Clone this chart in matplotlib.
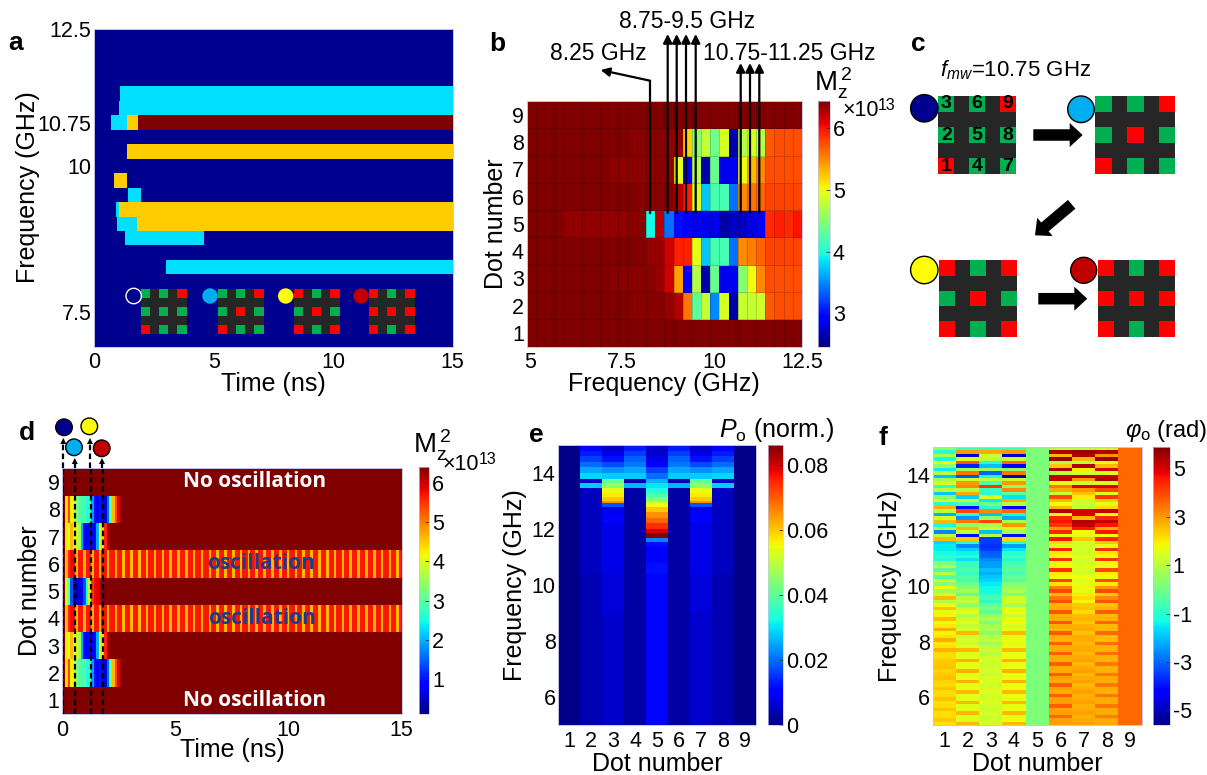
import numpy as np
import matplotlib
matplotlib.use('Agg')
import matplotlib.pyplot as plt
from matplotlib.patches import Rectangle, Circle, FancyArrow, Polygon

plt.rcParams['font.family'] = ['Liberation Sans', 'DejaVu Sans']
plt.rcParams['mathtext.fontset'] = 'custom'
plt.rcParams['mathtext.rm'] = 'Liberation Sans'
plt.rcParams['mathtext.it'] = 'Liberation Sans:italic'
plt.rcParams['mathtext.bf'] = 'Liberation Sans:bold'
plt.rcParams['axes.unicode_minus'] = False

W, H = 1207, 775
TICK = 15.5
LABEL = 18

NAVY = '#00008f'
CYAN = '#00dfff'
ORANGE = '#ffcc00'
DARK = '#7f0000'
C_BLUE = '#00aeef'
C_YEL = '#ffff00'
C_RED = '#c00000'
GREEN = '#00b050'
RED = '#ff0000'
GRID_BG = '#262626'

# panel a: bands as frequency (lower edge), start, end, colour
a_freq = [11.25, 11.0, 10.75, 10.75, 10.75, 10.25, 9.75, 9.5, 9.25, 9.25, 9.0, 9.0, 8.75, 8.25]
a_start = [1.07, 1.02, 0.70, 1.38, 1.83, 1.35, 0.81, 1.41, 0.91, 1.03, 0.96, 1.79, 1.28, 3.01]
a_end = [15, 15, 1.38, 1.83, 15, 15, 1.38, 1.94, 1.03, 15, 1.79, 15, 4.58, 15]
a_color = [CYAN, CYAN, CYAN, ORANGE, DARK, ORANGE, ORANGE, CYAN, CYAN, ORANGE, CYAN, ORANGE, CYAN, CYAN]
a_yticks = [7.6, 10.125, 10.875, 12.5]
a_ylabels = ['7.5', '10', '10.75', '12.5']

# panel b: Mz^2 (x1e13), dot 9 first, 30 frequency bins 5 - 12.5 GHz
b_freq = np.arange(5, 12.51, 0.25)
b_dot9 = [6.44] * 30
b_dot8 = [6.44, 6.44, 6.44, 6.44, 6.44, 6.44, 6.44, 6.44, 6.44, 6.44, 6.44, 6.4, 6.4, 6.4, 6.4, 6.36, 6.36, 5.2, 4.5, 4.8, 4.4, 4.9, 2.6, 4.7, 4.9, 4.7, 5.7, 5.75, 5.75, 5.75]
b_dot7 = [6.44, 6.44, 6.44, 6.44, 6.44, 6.44, 6.44, 6.44, 6.44, 6.39, 6.39, 6.39, 6.39, 6.39, 6.39, 6.35, 4.95, 2.9, 4.7, 2.6, 4.35, 2.85, 2.85, 5.0, 5.3, 5.5, 5.75, 5.75, 5.75, 5.75]
b_dot6 = [6.44, 6.44, 6.44, 6.44, 6.44, 6.44, 6.44, 6.44, 6.44, 6.44, 6.44, 6.44, 6.4, 6.4, 6.4, 6.4, 6.25, 5.95, 4.9, 3.75, 4.2, 4.2, 3.4, 5.5, 5.6, 5.65, 5.8, 5.8, 5.8, 5.8]
b_dot5 = [6.44, 6.44, 6.44, 6.44, 6.37, 6.37, 6.37, 6.37, 6.37, 6.37, 6.37, 6.4, 6.4, 3.95, 6.25, 3.4, 3.0, 2.9, 2.85, 2.85, 2.85, 2.6, 2.7, 2.7, 2.8, 2.95, 5.9, 5.95, 5.9, 6.0]
b_dot4 = [6.44, 6.44, 6.44, 6.44, 6.44, 6.44, 6.44, 6.44, 6.44, 6.44, 6.44, 6.44, 6.42, 6.36, 6.36, 6.15, 5.95, 5.95, 4.95, 3.75, 4.2, 4.2, 3.4, 5.5, 5.55, 5.65, 5.8, 5.8, 5.8, 5.8]
b_dot3 = [6.44, 6.44, 6.44, 6.44, 6.44, 6.44, 6.44, 6.44, 6.44, 6.4, 6.4, 6.4, 6.4, 6.4, 6.36, 6.15, 5.4, 2.9, 4.7, 2.6, 4.35, 2.85, 2.85, 4.5, 5.0, 5.5, 5.75, 5.75, 5.75, 5.75]
b_dot2 = [6.44, 6.44, 6.44, 6.44, 6.44, 6.44, 6.44, 6.44, 6.44, 6.44, 6.44, 6.4, 6.4, 6.4, 6.4, 6.36, 6.25, 5.6, 4.3, 4.8, 3.5, 4.9, 2.6, 4.8, 4.8, 4.85, 5.7, 5.75, 5.75, 5.75]
b_dot1 = [6.44] * 30

# panel d: Mz^2 (x1e13), early transient of each dot, bins of 15/130 ns
d_dot8 = [6.42, 4.4, 5.4, 4.2, 3.8, 3.4, 3.0, 2.7, 3.0, 2.5, 2.6, 1.9, 1.0, 0.9, 1.0, 0.8, 0.6, 1.6, 3.0, 4.6, 5.4, 5.9, 6.2]
d_dot7 = [6.42, 4.3, 4.0, 4.6, 4.2, 4.0, 3.6, 2.0, 0.9, 0.9, 0.9, 0.9, 0.9, 2.0, 4.0, 4.4, 5.6, 6.1]
d_dot5 = [6.42, 3.8, 3.2, 1.4, 0.5, 0.4, 0.6, 0.8, 1.4, 2.6, 4.0, 5.5, 5.8, 5.9, 6.1]
d_osc = [
    6.42, 4.6, 5.6, 5.8, 5.8, 4.6, 5.7, 5.7, 4.6, 5.7, 5.7, 4.6, 5.7, 5.7, 4.6, 5.7, 5.7, 4.6, 5.7, 5.7,
    4.6, 5.7, 5.7, 4.6, 5.7, 5.7, 4.6, 5.7, 5.7, 4.6, 5.7, 5.7, 4.6, 5.7, 5.7, 4.6, 5.7, 5.7, 4.6, 5.7,
    5.7, 4.6, 5.7, 5.7, 4.6, 5.7, 5.7, 4.6, 5.7, 5.7, 4.6, 5.7, 5.7, 4.6, 5.7, 5.7, 4.6, 5.7, 5.7, 4.6,
    5.7, 5.7, 4.6, 5.7, 5.7, 4.6, 5.7, 5.7, 4.6, 5.7, 5.7, 4.6, 5.7, 5.7, 4.6, 5.7, 5.7, 4.6, 5.7, 5.7,
    4.6, 5.7, 5.7, 4.6, 5.7, 5.7, 4.6, 5.7, 5.7, 4.6, 5.7, 5.7, 4.6, 5.7, 5.7, 4.6, 5.7, 5.7, 4.6, 5.7,
    5.7, 4.6, 5.7, 5.7, 4.6, 5.7, 5.7, 4.6, 5.7, 5.7, 4.6, 5.7, 5.7, 4.6, 5.7, 5.7, 4.6, 5.7, 5.7, 4.6,
    5.7, 5.7, 4.6, 5.7, 5.7, 4.6, 5.7, 5.7, 4.6, 5.7,
]
d_probe_t = [0.05, 0.55, 1.28, 1.8]

# panel e: output power, frequency row edges from 15 GHz down
e_edges = [15, 14.8, 14.6, 14.4, 14.2, 14.0, 13.8, 13.63, 13.45, 13.3, 13.15, 13.0, 12.92, 12.8, 12.6, 12.4, 12.2, 12.0, 11.85, 11.67, 11.55, 11.4, 10.8, 10.4, 9, 5]
e_dot1 = [0.001] * 25
e_dot2 = [.011, .013, .016, .020, .025, .029, .006, .028, .005, .005, .005, .005, .005, .005, .005, .005, .005, .005, .005, .005, .005, .005, .005, .004, .004]
e_dot3 = [.006, .008, .012, .017, .023, .028, .040, .045, .054, .057, .060, .065, .018, .008, .009, .011, .008, .008, .008, .008, .008, .008, .008, .007, .006]
e_dot4 = [.013, .016, .019, .021, .025, .028, .004, .026, .003, .003, .003, .003, .003, .003, .003, .003, .003, .003, .003, .003, .003, .003, .003, .003, .003]
e_dot5 = [.006, .006, .008, .011, .016, .020, .026, .030, .033, .038, .044, .050, .055, .060, .065, .069, .074, .079, .085, .022, .012, .010, .012, .011, .011]

# panel f: output phase, 80 rows of 0.125 GHz from 15 GHz down
f_dot1 = [0.5, -1.0, 0.8, -1.3, 1.7, 0.4, -1.5, 1.0, -2.0, 0.6, 1.4, -0.8, 1.0, -1.9, 0.3, 1.4, -1.0, 2.8, 1.0, -2.2, 1.4, 2.6, -1.2, 0.8, -2.6, 1.0, 2.6, -1.7, -1.5, -1.5, -1.3, -0.8, -1.2, 0.2, 1.0, -0.5, 1.0, -0.4, 1.2, 0.4,
          1.7, 0.6, 1.4, 2.6, 0.9, 1.7, 2.5, 1.6, 1.9, 2.6, 1.8, 2.0, 2.8, 1.9, 2.1, 2.8, 2.0, 2.1, 2.7, 2.2, 2.2, 2.4, 2.4, 2.5, 2.3, 2.4, 2.5, 2.3, 2.2, 2.5, 2.2, 2.2, 2.5, 2.1, 2.2, 2.5, 2.1, 2.2, 2.4, 2.1]
f_dot2 = [-0.8, 3.0, -4.8, 1.4, 3.8, -3.8, 0.6, 3.4, -3.2, 1.2, 3.0, 3.2, 1.0, 2.8, -1.8, 1.2, -0.6, -4.0, 4.0, -1.0, -2.5, 3.4, 0.5, 2.6, 1.2, -4.0, 2.4, -1.0, -2.6, -1.8, -1.4, -0.9, -1.6, -0.8, -0.8, -0.5, -0.9, -0.4, -0.8, 0.0,
          0.3, 0.6, -0.1, 0.9, 1.1, 0.5, 1.2, 1.5, 0.9, 1.3, 1.5, 1.1, 1.4, 2.6, 1.2, 1.4, 1.2, 1.6, 2.6, 1.5, 1.5, 2.7, 1.6, 1.6, 2.7, 1.6, 1.6, 2.7, 1.6, 1.6, 2.6, 1.6, 1.5, 2.6, 1.5, 1.6, 2.6, 1.5, 1.5, 2.6]
f_dot3 = [-0.8, 2.8, 1.2, 1.0, -1.0, -2.0, 0.5, -3.0, -1.2, 1.0, -0.5, 4.2, -0.8, -1.0, 1.5, -1.5, 0.0, -1.0, 3.2, -2.0, 0.4, 4.0, 0.8, 1.2, -2.0, 0.9, -3.5, -3.5, -3.6, -3.5, -3.1, -3.0, -2.6, -2.4, -2.4, -2.0, -2.2, -1.9, -1.7, -1.5,
          -1.3, -1.3, -0.9, -0.6, -1.0, -0.2, 0.2, -0.3, 0.4, 0.8, 0.2, 0.7, 0.9, 0.4, 0.9, 1.1, 0.6, 1.1, 1.2, 1.0, 1.3, 1.4, 1.2, 1.3, 1.4, 1.2, 1.4, 1.5, 1.3, 1.4, 1.5, 1.3, 1.4, 1.5, 1.3, 1.3, 1.4, 1.2, 1.3, 1.4]
f_dot4 = [-0.8, 3.0, -4.8, 1.2, 3.6, -4.4, 0.4, 3.4, -5.0, 1.2, 3.0, 0.4, 3.2, -0.3, -1.6, 2.8, 1.0, -4.2, 3.6, -1.2, -2.2, 0.8, 3.0, 1.4, 0.8, -4.0, 2.2, -0.8, -2.4, -1.6, -1.0, -0.6, -1.2, -0.6, -0.5, -0.3, -0.7, -0.2, -0.5, 0.3,
          0.5, 0.9, 0.2, 1.2, 1.4, 0.8, 1.5, 1.7, 1.2, 1.6, 1.8, 1.4, 1.6, 2.6, 1.5, 1.7, 1.5, 1.8, 2.6, 1.6, 1.7, 2.7, 1.7, 1.7, 2.7, 1.7, 1.7, 2.7, 1.7, 1.7, 2.6, 1.7, 1.7, 2.6, 1.6, 1.7, 2.6, 1.6, 1.7, 2.6]
f_dot5 = [0.15] * 80
f_dot6 = [1.0, 5.4, 2.6, 5.6, 1.0, 2.4, 5.4, 1.0, 5.2, 5.2, 1.6, 3.4, 2.8, 1.2, 4.0, 2.6, 1.8, 2.6, 5.4, 1.4, 4.4, 4.6, 4.2, 3.0, 4.4, 1.6, 4.6, 2.2, 1.5, 4.4, 2.0, 1.7, 4.3, 1.8, 1.7, 4.2, 2.0, 1.8, 4.1, 2.1,
          3.3, 4.0, 2.6, 3.4, 3.9, 2.7, 2.8, 3.8, 2.7, 2.8, 3.8, 2.8, 2.7, 3.8, 2.8, 2.7, 3.7, 2.8, 2.8, 3.7, 2.8, 2.8, 3.7, 2.8, 2.8, 3.7, 2.9, 2.8, 3.7, 2.9, 2.8, 3.7, 2.9, 2.9, 3.7, 2.9, 2.9, 3.6, 2.9, 2.9]
f_dot7 = [1.0, 5.6, 5.4, 2.6, 1.0, 5.4, 2.0, 1.4, 5.4, 3.0, 1.2, 5.0, 3.0, 2.5, 2.0, 1.2, 1.2, 1.2, 5.0, 5.0, 2.6, 5.4, 5.2, 4.6, 1.8, 1.6, 2.4, 1.4, 1.4, 1.4, 1.3, 1.6, 1.3, 1.3, 1.6, 1.4, 1.4, 1.7, 1.5, 1.6,
          1.9, 1.6, 2.0, 2.2, 1.9, 2.4, 2.5, 2.2, 2.6, 2.7, 2.4, 2.7, 2.8, 2.5, 2.8, 2.8, 2.6, 2.8, 2.8, 2.6, 2.8, 2.9, 2.6, 2.8, 2.9, 2.6, 2.8, 2.9, 2.6, 2.8, 2.9, 2.7, 2.8, 2.9, 2.7, 2.8, 2.9, 2.7, 2.8, 2.9]
f_dot8 = [1.2, 5.4, 3.0, 5.6, 1.6, 2.6, 5.0, 1.4, 5.2, 5.4, 1.4, 5.0, 4.0, 1.5, 4.2, 2.4, 1.6, 2.2, 5.2, 1.6, 4.4, 5.2, 4.6, 2.8, 4.6, 1.8, 4.4, 2.4, 1.6, 4.3, 2.0, 1.6, 4.2, 1.8, 1.6, 4.0, 2.0, 1.7, 4.0, 2.0,
          3.0, 4.0, 2.4, 3.2, 3.8, 2.5, 2.7, 3.7, 2.6, 2.7, 3.6, 2.6, 2.6, 3.6, 2.6, 2.6, 3.5, 2.7, 2.7, 3.5, 2.7, 2.7, 3.4, 2.7, 2.7, 3.4, 2.8, 2.7, 3.4, 2.8, 2.7, 3.4, 2.8, 2.8, 3.4, 2.8, 2.8, 3.3, 2.8, 2.8]
f_dot9 = [3.6] * 80

# switching states of the 3x3 dots, top row first
state_a = ['ggr', 'ggg', 'rgg']
state_b = ['ggr', 'grg', 'rgg']
state_c = ['rgr', 'grg', 'rgr']
state_d = ['rgr', 'rrr', 'rgr']
c_numbers = ['369', '258', '147']
dot_ticks = [1, 2, 3, 4, 5, 6, 7, 8, 9]


def px_axes(x0, y0, x1, y1):
    return fig.add_axes([x0 / W, 1 - y1 / H, (x1 - x0) / W, (y1 - y0) / H])


def style(ax):
    for s in ax.spines.values():
        s.set_color('#c4c8e8')
        s.set_linewidth(0.7)
    ax.tick_params(length=0, labelsize=TICK, pad=2)
    ax.tick_params(axis='x', pad=4)


def add_cbar(mesh, x0, y0, x1, y1, ticks, labels=None):
    cax = px_axes(x0, y0, x1, y1)
    cb = fig.colorbar(mesh, cax=cax)
    cb.set_ticks(ticks)
    if labels:
        cb.set_ticklabels(labels)
    cb.outline.set_edgecolor('#c4c8e8')
    cb.outline.set_linewidth(0.5)
    cax.tick_params(length=3, direction='in', color='#303030', width=0.6, labelsize=TICK, pad=2)
    return cb


def dot_grid(ov, x0, y0, x1, y1, state, numbers=None):
    ov.add_patch(Rectangle((x0, y0), x1 - x0, y1 - y0, fc=GRID_BG, ec='none'))
    w = (x1 - x0) * 0.205
    h = (y1 - y0) * 0.205
    for r in range(3):
        for c in range(3):
            px = x0 + (x1 - x0 - w) * c / 2
            py = y0 + (y1 - y0 - h) * r / 2
            col = RED if state[r][c] == 'r' else GREEN
            ov.add_patch(Rectangle((px, py), w, h, fc=col, ec='none'))
            if numbers:
                ov.text(px + w / 2, py + h / 2, numbers[r][c], fontsize=14, fontweight='bold',
                        ha='center', va='center', color='black')


def dot_marker(ov, x, y, r, col, ec='black'):
    ov.add_patch(Circle((x, y), r, fc=col, ec=ec, lw=1, zorder=5))


fig = plt.figure(figsize=(W / 100, H / 100), dpi=100, facecolor='white')

# panel a
ax_a = px_axes(94.3, 28.5, 452.7, 346.7)
ax_a.set_facecolor(NAVY)
for f, s, e, c in zip(a_freq, a_start, a_end, a_color):
    ax_a.barh(f, e - s, left=s, height=0.25, align='edge', color=c, lw=0)
ax_a.set_xlim(0, 15)
ax_a.set_ylim(7, 12.5)
ax_a.set_xticks([0, 5, 10, 15])
ax_a.set_yticks(a_yticks)
ax_a.set_yticklabels(a_ylabels)
style(ax_a)
ax_a.set_xlabel('Time (ns)', fontsize=LABEL, labelpad=-1)
ax_a.set_ylabel('Frequency (GHz)', fontsize=LABEL, labelpad=-2)

# panel b
b_rows = [b_dot1, b_dot2, b_dot3, b_dot4, b_dot5, b_dot6, b_dot7, b_dot8, b_dot9]
ax_b = px_axes(526.7, 101, 802, 346.7)
m_b = ax_b.pcolormesh(b_freq, np.arange(0.5, 9.6), np.array(b_rows), cmap='jet', vmin=2.46, vmax=6.44,
                      edgecolors=(0, 0, 0, 0.18), linewidth=0.5)
ax_b.set_xlim(5, 12.5)
ax_b.set_yticks(dot_ticks)
ax_b.set_xticks([5.1, 7.6, 10.1, 12.5])
ax_b.set_xticklabels(['5', '7.5', '10', '12.5'])
style(ax_b)
ax_b.set_xlabel('Frequency (GHz)', fontsize=LABEL, labelpad=-1)
ax_b.set_ylabel('Dot number', fontsize=LABEL, labelpad=3)
add_cbar(m_b, 818, 101, 830, 346.7, [3, 4, 5, 6])

# panel d
d_t = np.linspace(0, 15, 131)
d_rows = [[6.42] * 130 for _ in range(9)]
for row, early in [(1, d_dot8), (7, d_dot8), (2, d_dot7), (6, d_dot7), (4, d_dot5)]:
    d_rows[row][:len(early)] = early
d_rows[3] = d_osc
d_rows[5] = d_osc
ax_d = px_axes(62.3, 468.3, 401.7, 714)
m_d = ax_d.pcolormesh(d_t, np.arange(0.5, 9.6), np.array(d_rows), cmap='jet', vmin=0.1, vmax=6.42)
ax_d.set_xlim(0, 15)
ax_d.set_xticks([0, 5, 10, 15])
ax_d.set_yticks(dot_ticks)
style(ax_d)
ax_d.set_xlabel('Time (ns)', fontsize=LABEL, labelpad=-2)
ax_d.set_ylabel('Dot number', fontsize=LABEL, labelpad=4)
for t in d_probe_t:
    ax_d.axvline(t, color='black', ls='--', lw=1.6, dashes=(2.5, 1.5))
for txt, tx, y, c in [('No oscillation', 8.48, 9, 'white'), ('No oscillation', 8.48, 1, 'white'),
                      ('oscillation', 8.77, 6, '#1f3a8a'), ('oscillation', 8.83, 4, '#1f3a8a')]:
    ax_d.text(tx, y, txt, color=c, fontsize=15, fontweight='bold', family='Open Sans',
              ha='center', va='center')
add_cbar(m_d, 418.7, 466.7, 429.3, 714, [1, 2, 3, 4, 5, 6])

# panel e
e_rows = np.array([e_dot1, e_dot2, e_dot3, e_dot4, e_dot5, e_dot4, e_dot3, e_dot2, e_dot1]).T
ax_e = px_axes(558.3, 445, 756, 725)
m_e = ax_e.pcolormesh(np.arange(0.5, 9.6), e_edges, e_rows, cmap='jet', vmin=0, vmax=0.086)
ax_e.set_ylim(5, 15)
ax_e.set_xticks(dot_ticks)
ax_e.set_yticks([6, 8, 10, 12, 14])
style(ax_e)
ax_e.set_xlabel('Dot number', fontsize=LABEL, labelpad=0)
ax_e.set_ylabel('Frequency (GHz)', fontsize=LABEL, labelpad=3)
add_cbar(m_e, 767.7, 445, 783.3, 725, [0, 0.02, 0.04, 0.06, 0.08], ['0', '0.02', '0.04', '0.06', '0.08'])

# panel f
f_rows = np.array([f_dot1, f_dot2, f_dot3, f_dot4, f_dot5, f_dot6, f_dot7, f_dot8, f_dot9]).T
f_freq = np.linspace(15, 5, 81)
ax_f = px_axes(932.7, 446.7, 1141.7, 725)
m_f = ax_f.pcolormesh(np.arange(0.5, 9.6), f_freq, f_rows, cmap='jet', vmin=-5.6, vmax=5.9)
ax_f.set_ylim(5, 15)
ax_f.set_xticks(dot_ticks)
ax_f.set_yticks([6, 8, 10, 12, 14])
style(ax_f)
ax_f.set_xlabel('Dot number', fontsize=LABEL, labelpad=0)
ax_f.set_ylabel('Frequency (GHz)', fontsize=LABEL, labelpad=3)
add_cbar(m_f, 1153.3, 446.7, 1170, 725, [-5, -3, -1, 1, 3, 5])

# overlay in image pixels for schematics and annotations
ov = fig.add_axes([0, 0, 1, 1], facecolor='none')
ov.set_xlim(0, W)
ov.set_ylim(H, 0)
ov.axis('off')

for txt, x, y in [('a', 15.7, 43), ('b', 497, 44), ('c', 918, 44), ('d', 27, 433), ('e', 536.7, 435), ('f', 882.7, 438)]:
    ov.text(x, y, txt, fontsize=19, fontweight='bold', ha='center', va='center')

# inset strip of panel a
for x0, state, mx, col in [(141, state_a, 133.7, NAVY), (218, state_b, 210, C_BLUE),
                           (294, state_c, 285.7, C_YEL), (369, state_d, 361, C_RED)]:
    dot_grid(ov, x0, 289, x0 + 45.5, 334, state)
    dot_marker(ov, mx, 296, 7.7, col, ec='white' if col == NAVY else 'none')

# arrows and texts of panel b
arrow = dict(arrowstyle='-|>', lw=1.6, color='black', shrinkA=0, shrinkB=0, mutation_scale=13)
for x in [667.7, 676.7, 686, 695.7]:
    ov.annotate('', xy=(x, 34), xytext=(x, 213), arrowprops=arrow)
for x in [740.7, 750, 759.3]:
    ov.annotate('', xy=(x, 63), xytext=(x, 213), arrowprops=arrow)
ov.plot([650, 650], [213, 80.7], color='black', lw=1.6)
ov.annotate('', xy=(600.7, 70), xytext=(650, 80.7), arrowprops=arrow)
ov.text(686.7, 22, '8.75-9.5 GHz', fontsize=16.5, ha='center', va='center')
ov.text(598.5, 53, '8.25 GHz', fontsize=16.5, ha='center', va='center')
ov.text(789, 53, '10.75-11.25 GHz', fontsize=16.5, ha='center', va='center')
ov.text(833, 83, r'M$_{\mathrm{z}}^{\,2}$', fontsize=20, ha='center', va='center')
ov.text(861, 111, '×10', fontsize=15.5, ha='center', va='center')
ov.text(887, 105, '13', fontsize=11.5, ha='center', va='center')

# panel c
ov.text(940, 70, r'$\mathit{f}_{\mathit{mw}}$=10.75 GHz', fontsize=16, ha='left', va='center')
dot_grid(ov, 938.3, 96, 1016, 174, state_a, c_numbers)
dot_grid(ov, 1095.3, 96, 1175.3, 174, state_b)
dot_grid(ov, 939, 259.7, 1016.7, 337.3, state_c)
dot_grid(ov, 1097.7, 259.7, 1175.3, 337.3, state_d)
dot_marker(ov, 924.3, 108.3, 13.7, NAVY)
dot_marker(ov, 1081, 109.3, 13.3, C_BLUE)
dot_marker(ov, 924.3, 270, 13.7, C_YEL)
dot_marker(ov, 1083.7, 270.3, 13, C_RED)
for x, y, dx, dy in [(1033.3, 135, 49.4, 0), (1038.3, 298.7, 49, 0), (1071.7, 204.3, -36.7, 31)]:
    ov.add_patch(FancyArrow(x, y, dx, dy, width=11.5, head_width=24, head_length=13, length_includes_head=True, fc='black', ec='none'))

# panel d markers and labels
for x, y, col in [(64, 427.3, NAVY), (74, 447.3, C_BLUE), (89.3, 426.3, C_YEL), (101.7, 448.3, C_RED)]:
    dot_marker(ov, x, y, 8.3, col)
for x, tip in [(63.3, 438), (74.8, 458), (90, 438), (102, 458)]:
    ov.plot([x, x], [468, tip + 3], color='black', ls='--', lw=1.6, dashes=(2.5, 1.5))
    ov.add_patch(Polygon([(x, tip), (x - 3, tip + 6), (x + 3, tip + 6)], fc='black', ec='none'))
ov.text(432, 445, r'M$_{\mathrm{z}}^{\,2}$', fontsize=20, ha='center', va='center')
ov.text(461, 465, '×10', fontsize=15.5, ha='center', va='center')
ov.text(488, 460, '13', fontsize=11.5, ha='center', va='center')

ov.text(777, 430, r'$\mathit{P}_{\mathrm{o}}$ (norm.)', fontsize=18, ha='center', va='center')
ov.text(1166, 431, r'$\varphi_{\mathrm{o}}$ (rad)', fontsize=17, ha='center', va='center')

fig.savefig('out.png', dpi=100)
